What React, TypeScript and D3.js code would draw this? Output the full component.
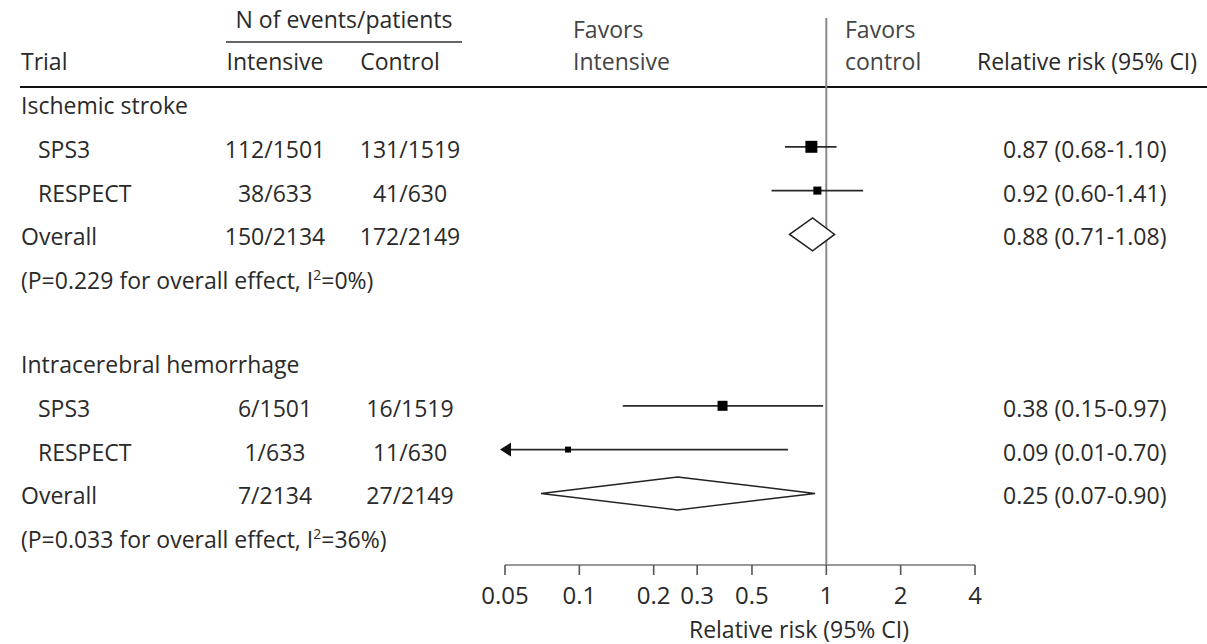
import React from "react";
import * as d3 from "d3";

// Subgroups of the pooled analysis
const groupNames = ["Ischemic stroke", "Intracerebral hemorrhage"];

// Individual trials (one entry per trial row)
const trialGroup = [0, 0, 1, 1];
const trialNames = ["SPS3", "RESPECT", "SPS3", "RESPECT"];
const intensiveEvents = [112, 38, 6, 1];
const intensivePatients = [1501, 633, 1501, 633];
const controlEvents = [131, 41, 16, 11];
const controlPatients = [1519, 630, 1519, 630];
const trialRR = [0.87, 0.92, 0.38, 0.09];
const trialLow = [0.68, 0.6, 0.15, 0.01];
const trialHigh = [1.1, 1.41, 0.97, 0.7];
const trialWeight = [73, 33, 51, 18];

// Pooled estimates per subgroup
const pooledRR = [0.88, 0.25];
const pooledLow = [0.71, 0.07];
const pooledHigh = [1.08, 0.9];
const pooledP = ["0.229", "0.033"];
const pooledI2 = ["0", "36"];

// Axis ticks
const tickValues = [0.05, 0.1, 0.2, 0.3, 0.5, 1, 2, 4];
const tickLabels = ["0.05", "0.1", "0.2", "0.3", "0.5", "1", "2", "4"];

const W = 1207;
const H = 644;
const FONT = "'Open Sans', sans-serif";
const FS = 23;
const TXT = "#2a2a2a";

export default function App() {
  const x = d3.scaleLog().domain([0.05, 4]).range([505, 975]);
  const box = d3.scaleSqrt().domain([0, 100]).range([0, 14]);
  const fmt = d3.format(".2f");
  const groupTop = [114, 373];
  const step = 43.8;
  const rowY = (g: number, k: number) => groupTop[g] + k * step;
  const markOffset = 11;
  const axisY = 565;
  const colIntensive = 275;
  const colControl = 410;
  const colRR = 1003;

  const rrText = (r: number, lo: number, hi: number) =>
    `${fmt(r)} (${fmt(lo)}-${fmt(hi)})`;

  const rows: React.ReactNode[] = [];

  groupNames.forEach((name, g) => {
    rows.push(
      <text key={`gh${g}`} x={21} y={rowY(g, 0)}>
        {name}
      </text>
    );
    const idx = trialGroup.map((tg, i) => (tg === g ? i : -1)).filter((i) => i >= 0);
    idx.forEach((i, k) => {
      const y = rowY(g, 1 + k);
      const cy = y - markOffset;
      const lo = Math.max(trialLow[i], x.domain()[0]);
      const clipped = trialLow[i] < x.domain()[0];
      const s = box(trialWeight[i]);
      rows.push(
        <g key={`t${i}`}>
          <text x={38} y={y}>{trialNames[i]}</text>
          <text x={colIntensive} y={y} textAnchor="middle">
            {`${intensiveEvents[i]}/${intensivePatients[i]}`}
          </text>
          <text x={colControl} y={y} textAnchor="middle">
            {`${controlEvents[i]}/${controlPatients[i]}`}
          </text>
          <text x={colRR} y={y}>{rrText(trialRR[i], trialLow[i], trialHigh[i])}</text>
          <line
            x1={clipped ? x(lo) + 5 : x(lo)}
            x2={x(trialHigh[i])}
            y1={cy}
            y2={cy}
            stroke="#2a2a2a"
            strokeWidth={1.7}
          />
          {clipped && (
            <path
              d={`M${x(lo) - 5},${cy} L${x(lo) + 6},${cy - 7} L${x(lo) + 6},${cy + 7} Z`}
              fill="#111"
            />
          )}
          <rect x={x(trialRR[i]) - s / 2} y={cy - s / 2} width={s} height={s} fill="#000" />
        </g>
      );
    });
    const yo = rowY(g, 3);
    const cyo = yo - markOffset;
    const ie = d3.sum(idx.map((i) => intensiveEvents[i]));
    const ip = d3.sum(idx.map((i) => intensivePatients[i]));
    const ce = d3.sum(idx.map((i) => controlEvents[i]));
    const cp = d3.sum(idx.map((i) => controlPatients[i]));
    const dh = 16.5;
    rows.push(
      <g key={`o${g}`}>
        <text x={21} y={yo}>Overall</text>
        <text x={colIntensive} y={yo} textAnchor="middle">{`${ie}/${ip}`}</text>
        <text x={colControl} y={yo} textAnchor="middle">{`${ce}/${cp}`}</text>
        <text x={colRR} y={yo}>{rrText(pooledRR[g], pooledLow[g], pooledHigh[g])}</text>
        <path
          d={`M${x(pooledLow[g])},${cyo} L${x(pooledRR[g])},${cyo - dh} L${x(pooledHigh[g])},${cyo} L${x(pooledRR[g])},${cyo + dh} Z`}
          fill="#fff"
          stroke="#222"
          strokeWidth={1.5}
        />
        <text x={21} y={rowY(g, 4)}>
          {`(P=${pooledP[g]} for overall effect, I`}
          <tspan fontSize={14} dy={-9}>2</tspan>
          <tspan dy={9}>{`=${pooledI2[g]}%)`}</tspan>
        </text>
      </g>
    );
  });

  return (
    <svg
      width={W}
      height={H}
      style={{ position: "absolute", left: 0, top: 0, background: "#fff" }}
      fontFamily={FONT}
      fontSize={FS}
      fill={TXT}
    >
      {/* column headers */}
      <text x={344} y={28} textAnchor="middle">N of events/patients</text>
      <line x1={226} x2={462} y1={42} y2={42} stroke="#333" strokeWidth={1.3} />
      <text x={21} y={70}>Trial</text>
      <text x={colIntensive} y={70} textAnchor="middle">Intensive</text>
      <text x={400} y={70} textAnchor="middle">Control</text>
      <text x={573} y={38} fill="#444">Favors</text>
      <text x={573} y={70} fill="#444">Intensive</text>
      <text x={845} y={38} fill="#444">Favors</text>
      <text x={845} y={70} fill="#444">control</text>
      <text x={977} y={70}>Relative risk (95% CI)</text>
      <line x1={20} x2={W} y1={87} y2={87} stroke="#111" strokeWidth={2} />

      {/* line of no effect */}
      <line x1={x(1)} x2={x(1)} y1={18} y2={axisY} stroke="#8a8a8a" strokeWidth={2} />

      {rows}

      {/* log axis */}
      <line x1={x(0.05)} x2={x(4)} y1={axisY} y2={axisY} stroke="#777" strokeWidth={1.6} />
      {tickValues.map((t, i) => (
        <g key={`tk${i}`}>
          <line x1={x(t)} x2={x(t)} y1={axisY} y2={axisY + 10} stroke="#555" strokeWidth={1.6} />
          <text x={x(t)} y={604} textAnchor="middle" fontSize={24}>{tickLabels[i]}</text>
        </g>
      ))}
      <text x={799} y={638} textAnchor="middle">Relative risk (95% CI)</text>
    </svg>
  );
}
